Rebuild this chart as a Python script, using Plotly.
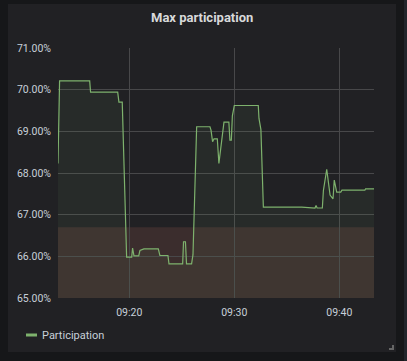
import plotly.graph_objects as go

DAY = "2023-05-10 "
times = [
    "09:13:13", "09:13:22", "09:16:14", "09:16:19", "09:18:54", "09:19:01", "09:19:20",
    "09:19:45", "09:20:14", "09:20:19", "09:20:27", "09:20:54", "09:21:01", "09:21:24",
    "09:22:46", "09:22:55", "09:23:41", "09:23:47", "09:25:05", "09:25:10", "09:25:21",
    "09:25:27", "09:25:56", "09:26:04", "09:26:25", "09:27:41", "09:27:47", "09:27:56",
    "09:28:04", "09:28:23", "09:28:32", "09:29:01", "09:29:29", "09:29:35", "09:29:43",
    "09:29:49", "09:30:00", "09:32:17", "09:32:21", "09:32:32", "09:32:46", "09:36:25",
    "09:37:41", "09:37:47", "09:37:53", "09:38:23", "09:38:29", "09:38:48", "09:39:07",
    "09:39:24", "09:39:31", "09:39:45", "09:40:08", "09:40:15", "09:42:26", "09:42:30",
    "09:43:18",
]
participation = [
    68.23, 70.21, 70.21, 69.94, 69.94, 69.70, 69.70,
    65.98, 65.98, 66.20, 66.01, 66.01, 66.14, 66.18,
    66.18, 66.02, 66.02, 65.82, 65.82, 66.35, 66.35,
    65.82, 65.82, 66.04, 69.11, 69.11, 69.03, 68.75,
    68.82, 68.82, 68.23, 69.22, 69.22, 68.79, 68.79,
    69.37, 69.62, 69.62, 69.31, 69.04, 67.18, 67.18,
    67.16, 67.22, 67.16, 67.16, 67.58, 68.09, 67.47,
    67.38, 67.83, 67.54, 67.54, 67.59, 67.59, 67.62,
    67.62,
]
threshold = 66.7
y_min, y_max = 65, 71
y_ticks = [65, 66, 67, 68, 69, 70, 71]
x_ticks = ["09:20", "09:30", "09:40"]
title = "Max participation"
series_name = "Participation"

W, H = 407, 361
L, R, T, B = 58, 33, 48, 63
pw, ph = W - L - R, H - T - B


def px(x):
    return (x - L) / pw


def py(y):
    return (H - B - y) / ph


x_vals = [DAY + t for t in times]
green = "#7EB26D"
font = "Roboto, Liberation Sans, Arial, sans-serif"

fig = go.Figure()
fig.add_trace(go.Scatter(
    x=x_vals, y=participation, mode="lines", name=series_name,
    line=dict(color=green, width=1.2), fill="tozeroy",
    fillcolor="rgba(126,178,109,0.07)", showlegend=False, hoverinfo="skip",
))

shapes = [
    # panel
    dict(type="rect", xref="paper", yref="paper", x0=px(8), x1=px(396), y0=py(352), y1=py(4),
         fillcolor="#212124", line=dict(width=0), layer="below"),
    # right strip
    dict(type="rect", xref="paper", yref="paper", x0=px(404), x1=px(407.5), y0=py(362), y1=py(-1),
         fillcolor="#22252b", line=dict(width=0), layer="below"),
    # threshold band
    dict(type="rect", xref="paper", yref="y", x0=0, x1=1, y0=y_min, y1=threshold,
         fillcolor="#3b2d2d", line=dict(width=0), layer="below"),
    # legend line
    dict(type="line", xref="paper", yref="paper", x0=px(26), x1=px(37), y0=py(335), y1=py(335),
         line=dict(color=green, width=3)),
    # resize handle
    dict(type="line", xref="paper", yref="paper", x0=px(389), x1=px(394), y0=py(349), y1=py(349),
         line=dict(color="#666", width=2)),
    dict(type="line", xref="paper", yref="paper", x0=px(393), x1=px(393), y0=py(350), y1=py(345),
         line=dict(color="#666", width=2)),
]

annotations = [
    dict(text="<b>" + title + "</b>", xref="paper", yref="paper", x=px(202), y=py(18),
         showarrow=False, font=dict(family=font, size=13, color="#d8d9da"),
         xanchor="center", yanchor="middle"),
    dict(text=series_name, xref="paper", yref="paper", x=px(40), y=py(335),
         showarrow=False, font=dict(family=font, size=11, color="#c7d0d9"),
         xanchor="left", yanchor="middle"),
]

fig.update_layout(
    width=W, height=H,
    margin=dict(l=L, r=R, t=T, b=B),
    paper_bgcolor="#161719", plot_bgcolor="rgba(0,0,0,0)",
    shapes=shapes, annotations=annotations, showlegend=False,
    font=dict(family=font, size=11, color="#c7d0d9"),
    xaxis=dict(
        type="date", range=[DAY + "09:13:13", DAY + "09:43:18"],
        tickvals=[DAY + t for t in x_ticks], ticktext=x_ticks,
        showgrid=True, gridcolor="#48484a", gridwidth=1,
        zeroline=False, showline=False, ticks="", ticklabelstandoff=6,
        tickfont=dict(size=10.5, color="#c7d0d9"),
    ),
    yaxis=dict(
        range=[y_min, y_max], tickvals=y_ticks,
        ticktext=[f"{v:.2f}%" for v in y_ticks],
        showgrid=True, gridcolor="#48484a", gridwidth=1,
        zeroline=False, showline=False, ticks="", ticklabelstandoff=6,
        tickfont=dict(size=10.5, color="#c7d0d9"),
    ),
)

fig.write_html("out.html", config={"displayModeBar": False})
with open("out.html", encoding="utf-8") as f:
    html = f.read()
html = html.replace("<head>", "<head><style>html,body{margin:0;padding:0;background:#161719;overflow:hidden}</style>", 1)
with open("out.html", "w", encoding="utf-8") as f:
    f.write(html)
